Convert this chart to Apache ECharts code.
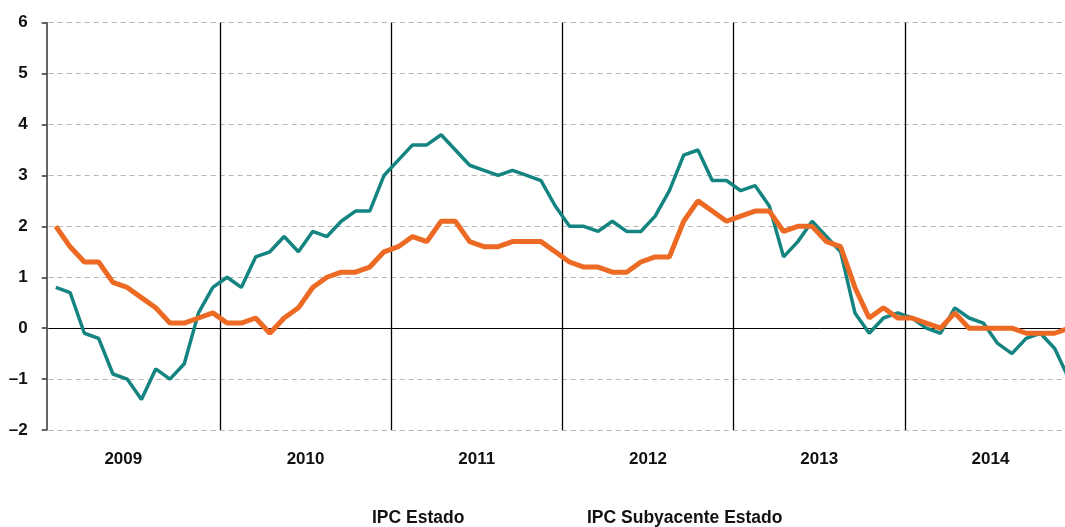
<!DOCTYPE html>
<html>
<head>
<meta charset="utf-8">
<script src="https://cdn.jsdelivr.net/npm/echarts@6/dist/echarts.min.js"></script>
<style>
html,body{margin:0;padding:0;background:#fff;overflow:hidden;width:1065px;height:527px;}
#chart{width:1090px;height:527px;}
</style>
</head>
<body>
<div id="chart"></div>
<script>
const years = ['2009', '2010', '2011', '2012', '2013', '2014'];
const months = [];
years.forEach(y => { for (let m = 1; m <= 12; m++) months.push(y + '-' + (m < 10 ? '0' + m : m)); });

const ipcEstado = [
  0.8, 0.7, -0.1, -0.2, -0.9, -1.0, -1.4, -0.8, -1.0, -0.7, 0.3, 0.8,
  1.0, 0.8, 1.4, 1.5, 1.8, 1.5, 1.9, 1.8, 2.1, 2.3, 2.3, 3.0,
  3.3, 3.6, 3.6, 3.8, 3.5, 3.2, 3.1, 3.0, 3.1, 3.0, 2.9, 2.4,
  2.0, 2.0, 1.9, 2.1, 1.9, 1.9, 2.2, 2.7, 3.4, 3.5, 2.9, 2.9,
  2.7, 2.8, 2.4, 1.4, 1.7, 2.1, 1.8, 1.5, 0.3, -0.1, 0.2, 0.3,
  0.2, 0.0, -0.1, 0.4, 0.2, 0.1, -0.3, -0.5, -0.2, -0.1, -0.4, -1.0
];
const ipcSubyacente = [
  2.0, 1.6, 1.3, 1.3, 0.9, 0.8, 0.6, 0.4, 0.1, 0.1, 0.2, 0.3,
  0.1, 0.1, 0.2, -0.1, 0.2, 0.4, 0.8, 1.0, 1.1, 1.1, 1.2, 1.5,
  1.6, 1.8, 1.7, 2.1, 2.1, 1.7, 1.6, 1.6, 1.7, 1.7, 1.7, 1.5,
  1.3, 1.2, 1.2, 1.1, 1.1, 1.3, 1.4, 1.4, 2.1, 2.5, 2.3, 2.1,
  2.2, 2.3, 2.3, 1.9, 2.0, 2.0, 1.7, 1.6, 0.8, 0.2, 0.4, 0.2,
  0.2, 0.1, 0.0, 0.3, 0.0, 0.0, 0.0, 0.0, -0.1, -0.1, -0.1, 0.0
];
const seriesNames = ['IPC Estado', 'IPC Subyacente Estado'];

const chart = echarts.init(document.getElementById('chart'), null, {renderer: 'canvas'});
const font = 'Liberation Sans, Arial, Helvetica, sans-serif';
const labelStyle = {fontSize: 17, fontWeight: 'bold', color: '#111', fontFamily: font};
chart.setOption({
  animation: false,
  backgroundColor: '#fff',
  textStyle: {fontFamily: font},
  grid: {left: 48.7, top: 22.7, width: 1027.4, height: 407.3, containLabel: false},
  legend: [
    {left: 362, top: 504, itemWidth: 0, itemHeight: 0, icon: 'rect', selectedMode: false,
     data: [seriesNames[0]], textStyle: {fontSize: 17.5, fontWeight: 'bold', color: '#111', fontFamily: font}},
    {left: 577, top: 504, itemWidth: 0, itemHeight: 0, icon: 'rect', selectedMode: false,
     data: [seriesNames[1]], textStyle: {fontSize: 17.5, fontWeight: 'bold', color: '#111', fontFamily: font}}
  ],
  xAxis: [
    {
      type: 'category', data: months, boundaryGap: true,
      axisLine: {show: true, onZero: true, lineStyle: {color: '#000', width: 1}},
      axisTick: {show: false}, axisLabel: {show: false}, splitLine: {show: false}
    },
    {
      type: 'category', data: years, boundaryGap: true, position: 'bottom',
      axisLine: {show: false, onZero: false}, axisTick: {show: false},
      axisLabel: Object.assign({margin: 21,
        formatter: (v, i) => i === 0 ? '{f|' + v + '}' : v,
        rich: {f: Object.assign({padding: [0, 22, 0, 0]}, labelStyle)}}, labelStyle),
      splitLine: {show: true, interval: function (i) { return i > 0; }, lineStyle: {color: '#000', width: 1.3}}
    }
  ],
  yAxis: {
    type: 'value', min: -2, max: 6, interval: 1, offset: 2,
    axisLine: {show: true, lineStyle: {color: '#333', width: 1.5}},
    axisTick: {show: true, length: 5, lineStyle: {color: '#333', width: 1.5}},
    axisLabel: {margin: 19, fontSize: 17, fontWeight: 'bold', color: '#111', fontFamily: font,
      formatter: v => String(v).replace('-', '\u2013')},
    splitLine: {show: true, lineStyle: {type: [5, 4], color: '#b5b5b5', width: 1}}
  },
  series: [
    {name: seriesNames[0], type: 'line', xAxisIndex: 0, data: ipcEstado, symbol: 'none',
     itemStyle: {color: '#148480'}, lineStyle: {color: '#148480', width: 3.5}, z: 3},
    {name: seriesNames[1], type: 'line', xAxisIndex: 0, data: ipcSubyacente, symbol: 'none',
     itemStyle: {color: '#EC6A24'}, lineStyle: {color: '#EC6A24', width: 5}, z: 4}
  ]
});
</script>
</body>
</html>
